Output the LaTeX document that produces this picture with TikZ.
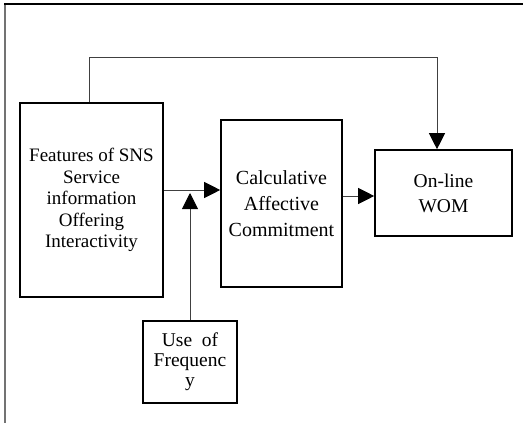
\documentclass[tikz,border=0pt]{standalone}
\usepackage{fontspec}
\setmainfont{Liberation Serif}
\usepackage{tikz}
\usetikzlibrary{calc}
\usetikzlibrary{positioning}
\usetikzlibrary {arrows.meta}
\usepackage{xcolor}

\begin{document}
\begin{tikzpicture}[
		x=1pt, y=-1pt,
		b/.style = {rectangle, draw=black, line width=1.6pt, align=center, inner sep=0pt, font=\fontsize{19}{21.5}\selectfont},
		r/.style = {-{Triangle[length=16pt, width=16pt, color=black]}, draw=black!75, line width=0.9pt},
		]
		\useasboundingbox (0,0) rectangle (523,423);
		
		%Frame
		\draw[black!55, line width=1.6pt] (5,4) -- (5,423);
		\draw[black, line width=1.8pt] (4,4) -- (523,4);
		
		%Nodes
		\node[b, minimum width=143, minimum height=194]	(f)	at	(91.5, 200)	{Features of SNS\\Service\\information\\Offering\\Interactivity};
		\node[b, minimum width=121, minimum height=167, font=\fontsize{20}{26}\selectfont]	(c)	at	(281.5, 203.5)	{Calculative\\Affective\\Commitment};
		\node[b, minimum width=137, minimum height=86, font=\fontsize{19.5}{25}\selectfont]	(w)	at	(443.5, 193)	{On-line\\WOM};
		\node[b, minimum width=94, minimum height=82, font=\fontsize{19.5}{20}\selectfont]	(u)	at	(190, 362)	{Use~~of\\Frequenc\\y};
		
		\coordinate	(j)	at	(190, 190);
		\coordinate	(k)	at	(0, 196);
		\coordinate	(s)	at	(89, 57);
		\coordinate	(t)	at	(437, 57);
		
		%Lines
		\draw[r]	(f.east |- j)	--	(c.west |- j);
		\draw[r]	(u.north)	--	($(j)+(0,3)$);
		\draw[r]	(c.east |- k)	--	(w.west |- k);
		\draw[r]	(s |- f.north)	--	(s)	--	(t)	--	(t |- w.north);
	\end{tikzpicture}
\end{document}
